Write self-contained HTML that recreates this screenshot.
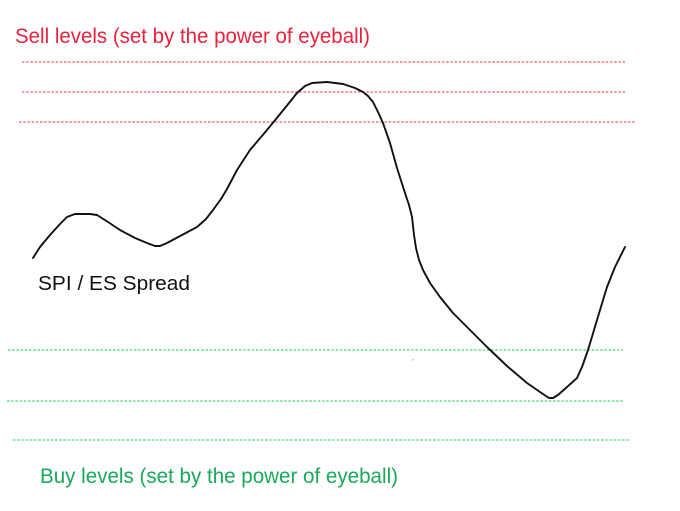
<!DOCTYPE html>
<html>
<head>
<meta charset="utf-8">
<style>
  html, body { margin: 0; padding: 0; background: #ffffff; }
  body { width: 680px; height: 511px; overflow: hidden; }
  svg { display: block; }
  text { font-family: "Liberation Sans", sans-serif; }
</style>
</head>
<body>
<svg width="680" height="511" viewBox="0 0 680 511" xmlns="http://www.w3.org/2000/svg">
  <rect x="0" y="0" width="680" height="511" fill="#ffffff"/>

  <!-- Sell title -->
  <text x="15" y="43" font-size="21.5" fill="#e8233d" textLength="355" lengthAdjust="spacingAndGlyphs">Sell levels (set by the power of eyeball)</text>

  <!-- Red sell lines -->
  <g stroke="#ec5c6e" stroke-width="1.3" stroke-dasharray="2.5 1.7" fill="none">
    <line x1="22" y1="62" x2="625" y2="62"/>
    <line x1="22" y1="92" x2="625" y2="92"/>
    <line x1="19" y1="122" x2="635" y2="122"/>
  </g>

  <!-- Green buy lines -->
  <g stroke="#48d67e" stroke-width="1.3" stroke-dasharray="2.5 1.7" fill="none">
    <line x1="8" y1="350" x2="623" y2="350"/>
    <line x1="7" y1="401" x2="623" y2="401"/>
    <line x1="13" y1="440" x2="629" y2="440"/>
  </g>
  <rect x="412" y="359" width="1.5" height="1.5" fill="#7ee0a0"/>

  <!-- Curve -->
  <polyline fill="none" stroke="#111111" stroke-width="1.9" stroke-linejoin="round" stroke-linecap="round"
    points="33,258 40,247 50,235 60,224 67,217 75,214 90,214 97,215 108,222 120,230 135,238 147,243 155,246 160,246 167,243 182,235 197,227 206,219 213,210 221,199 227,189 237,170 250,150 267,130 285,108 297,93 305,86 312,83 327,82 343,84 355,88 363,92 368,96 373,102 378,112 383,123 390,143 397,168 405,193 409,205 412,217 414,235 416,248 419,260 423,270 430,283 440,297 453,313 470,330 487,347 507,366 527,383 540,392 549,398 553,398 558,395 567,387 577,378 582,367 588,350 597,320 607,287 615,267 625,247"/>

  <!-- Series label -->
  <text x="38" y="290" font-size="20.5" fill="#111111" textLength="152" lengthAdjust="spacingAndGlyphs">SPI / ES Spread</text>

  <!-- Buy title -->
  <text x="40" y="483" font-size="21.5" fill="#1aa85a" textLength="358" lengthAdjust="spacingAndGlyphs">Buy levels (set by the power of eyeball)</text>
</svg>
</body>
</html>
